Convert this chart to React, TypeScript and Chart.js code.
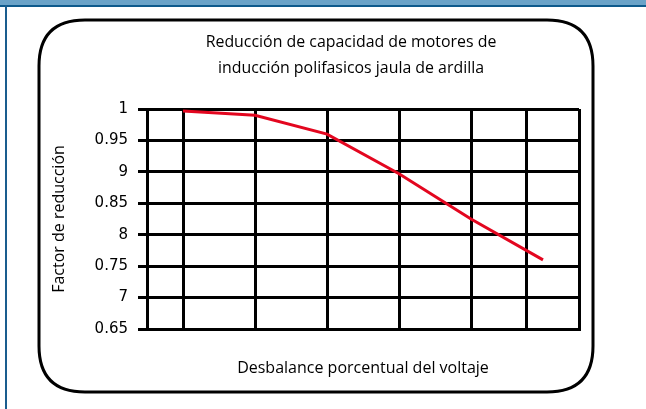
import React, { useEffect, useRef } from 'react';
import { Chart, registerables } from 'chart.js';

Chart.register(...registerables);

const titleLines = ['Reducción de capacidad de motores de', 'inducción polifasicos jaula de ardilla'];
const xAxisTitle = 'Desbalance porcentual del voltaje';
const yAxisTitle = 'Factor de reducción';
const unbalancePercent = [0, 1, 2, 3, 4, 5];
const reductionFactor = [0.997, 0.99, 0.96, 0.897, 0.825, 0.76];
const yTickValues = [1, 0.95, 0.9, 0.85, 0.8, 0.75, 0.7, 0.65];
const yTickLabels = ['1', '0.95', '9', '0.85', '8', '0.75', '7', '0.65'];
const xGridValues = [-0.5, 0, 1, 2, 3, 4, 4.77, 5.5];

const framePlugin = {
  id: 'frame',
  afterLayout(chart: any) {
    if (chart.titleBlock) {
      chart.titleBlock.left = 123;
      chart.titleBlock.right = 579;
    }
  },
  beforeDraw(chart: any) {
    const ctx = chart.ctx;
    const w = chart.width;
    const h = chart.height;
    ctx.save();
    ctx.fillStyle = '#ffffff';
    ctx.fillRect(0, 0, w, h);
    ctx.fillStyle = '#6aa3c8';
    ctx.fillRect(0, 0, w, 5);
    ctx.fillStyle = '#0d5a8c';
    ctx.fillRect(0, 5, w, 2);
    ctx.fillStyle = '#1a5d8e';
    ctx.fillRect(5, 5, 2, h - 5);
    const x0 = 39, y0 = 20, x1 = 593, y1 = 392, r = 46;
    ctx.beginPath();
    ctx.moveTo(x0 + r, y0);
    ctx.lineTo(x1 - r, y0);
    ctx.quadraticCurveTo(x1, y0, x1, y0 + r);
    ctx.lineTo(x1, y1 - r);
    ctx.quadraticCurveTo(x1, y1, x1 - r, y1);
    ctx.lineTo(x0 + r, y1);
    ctx.quadraticCurveTo(x0, y1, x0, y1 - r);
    ctx.lineTo(x0, y0 + r);
    ctx.quadraticCurveTo(x0, y0, x0 + r, y0);
    ctx.closePath();
    ctx.lineWidth = 3;
    ctx.strokeStyle = '#000000';
    ctx.stroke();
    ctx.restore();
  },
};

export default function App() {
  const canvasRef = useRef<HTMLCanvasElement | null>(null);

  useEffect(() => {
    if (!canvasRef.current) return;
    const chart = new Chart(canvasRef.current, {
      type: 'line',
      data: {
        datasets: [
          {
            data: unbalancePercent.map((x, i) => ({ x, y: reductionFactor[i] })),
            borderColor: '#e3061f',
            borderWidth: 3,
            pointRadius: 0,
            tension: 0,
            fill: false,
          },
        ],
      },
      plugins: [framePlugin],
      options: {
        animation: false,
        responsive: false,
        devicePixelRatio: 1,
        layout: { padding: { left: 40, right: 67, top: 29, bottom: 0 } },
        plugins: {
          legend: { display: false },
          tooltip: { enabled: false },
          title: {
            display: true,
            text: titleLines,
            color: '#000000',
            font: { family: '"Open Sans", sans-serif', size: 15.9, weight: '400', lineHeight: 26 / 15.9 },
            padding: { top: 0, bottom: 28 },
          },
        },
        scales: {
          x: {
            type: 'linear',
            min: -0.5,
            max: 5.5,
            afterBuildTicks: (scale: any) => {
              scale.ticks = xGridValues.map((v) => ({ value: v }));
            },
            afterFit: (scale: any) => {
              scale.height = 80;
            },
            ticks: { display: false },
            grid: { color: '#000000', lineWidth: 3, drawTicks: false },
            border: { display: true, color: '#000000', width: 3 },
            title: {
              display: true,
              text: xAxisTitle,
              color: '#000000',
              font: { family: '"Open Sans", sans-serif', size: 16, weight: '400' },
              padding: { top: 0, bottom: 31 },
            },
          },
          y: {
            type: 'linear',
            min: 0.65,
            max: 1,
            afterBuildTicks: (scale: any) => {
              scale.ticks = [...yTickValues].sort((a, b) => a - b).map((v) => ({ value: v }));
            },
            afterFit: (scale: any) => {
              scale.width = 107;
            },
            ticks: {
              color: '#000000',
              padding: 10,
              font: { family: '"DejaVu Sans", sans-serif', size: 15 },
              callback: (value: any) => {
                const i = yTickValues.findIndex((v) => Math.abs(v - Number(value)) < 1e-6);
                return i >= 0 ? yTickLabels[i] : '';
              },
            },
            grid: { color: '#000000', lineWidth: 3, drawTicks: true, tickLength: 9 },
            border: { display: true, color: '#000000', width: 3 },
            title: {
              display: true,
              text: yAxisTitle,
              color: '#000000',
              font: { family: '"Open Sans", sans-serif', size: 16 },
              padding: { top: 10, bottom: 0 },
            },
          },
        },
      },
    });
    return () => chart.destroy();
  }, []);

  return (
    <div style={{ position: 'absolute', left: 0, top: 0, width: 646, height: 409, background: '#fff' }}>
      <canvas ref={canvasRef} width={646} height={409} style={{ width: 646, height: 409, display: 'block' }} />
    </div>
  );
}
